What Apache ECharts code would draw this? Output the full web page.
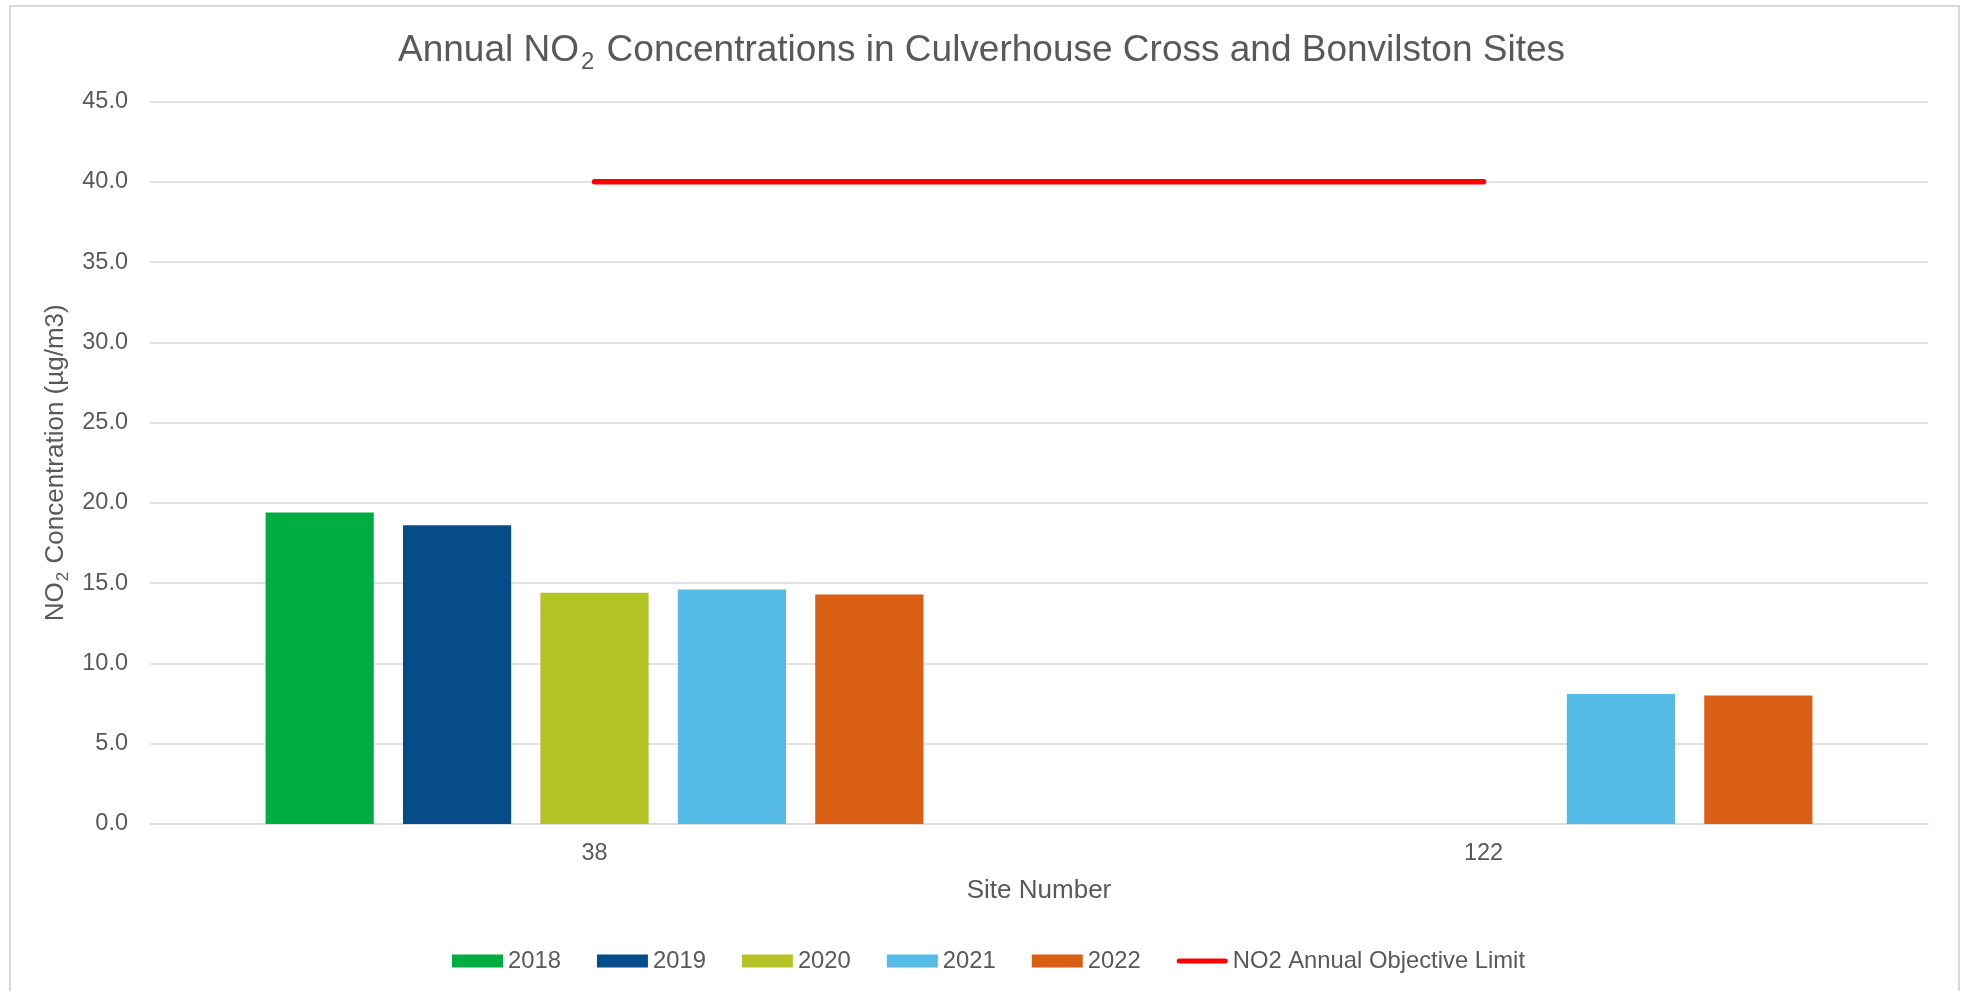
<!DOCTYPE html>
<html>
<head>
<meta charset="utf-8">
<script src="https://cdn.jsdelivr.net/npm/echarts@6/dist/echarts.min.js"></script>
<style>
html,body{margin:0;padding:0;background:#fff;}
#chart{width:1963px;height:991px;}
</style>
</head>
<body>
<div id="chart"></div>
<script>
const categories = ['38', '122'];
const years = ['2018', '2019', '2020', '2021', '2022'];
const values2018 = [19.4, null];
const values2019 = [18.6, null];
const values2020 = [14.4, null];
const values2021 = [14.6, 8.1];
const values2022 = [14.3, 8.0];
const objectiveLimit = [40, 40];
const objectiveName = 'NO2 Annual Objective Limit';
const yTicks = { min: 0, max: 45, interval: 5 };
const colors = ['#00AD43', '#064C89', '#B3C325', '#55BBE6', '#DA5F15'];

const seriesValues = [values2018, values2019, values2020, values2021, values2022];
const FONT = '"Liberation Sans", Arial, sans-serif';
const TXT = '#595959';
const LINE_ICON = 'path://M0,0 h0.001 v0.001 z M2.5,4 h46 a2.5,2.5 0 0 1 0,5 h-46 a2.5,2.5 0 0 1 0,-5 z M0,13 h0.001 v-0.001 z';

const chart = echarts.init(document.getElementById('chart'), null, { renderer: 'canvas' });

const barSeries = years.map((y, i) => ({
  name: y,
  type: 'bar',
  data: seriesValues[i],
  itemStyle: { color: colors[i] },
  barGap: '27%',
  barCategoryGap: '26%',
  emphasis: { disabled: true }
}));

const option = {
  backgroundColor: '#ffffff',
  animation: false,
  textStyle: { fontFamily: FONT },
  title: {
    text: '{a|Annual NO}{s|2}{a| Concentrations in Culverhouse Cross and Bonvilston Sites}',
    left: 'center',
    top: 24,
    textStyle: {
      fontWeight: 'normal',
      rich: {
        a: { fontSize: 37, color: TXT, fontFamily: FONT, fontWeight: 'normal', lineHeight: 44 },
        s: { fontSize: 24, color: TXT, fontFamily: FONT, fontWeight: 'normal', lineHeight: 24, padding: [23, 2, 0, 2] }
      }
    }
  },
  grid: { left: 150, right: 35, top: 101.5, bottom: 167, containLabel: false },
  legend: {
    bottom: 13,
    left: 447,
    itemWidth: 51,
    itemHeight: 13,
    itemGap: 36,
    textStyle: { fontSize: 23.8, color: TXT, fontFamily: FONT },
    data: [
      ...years.map(y => ({ name: y, icon: 'rect' })),
      { name: objectiveName, icon: LINE_ICON, itemStyle: { color: '#FF0000', borderWidth: 0 }, lineStyle: { width: 0 } }
    ]
  },
  xAxis: {
    type: 'category',
    data: categories,
    name: 'Site Number',
    nameLocation: 'middle',
    nameGap: 54,
    nameTextStyle: { fontSize: 26, color: TXT, fontFamily: FONT },
    axisLine: { show: true, lineStyle: { color: '#d9d9d9', width: 1.5 } },
    axisTick: { show: false },
    axisLabel: { fontSize: 23.5, color: TXT, margin: 18, fontFamily: FONT },
    splitLine: { show: false }
  },
  yAxis: {
    type: 'value',
    min: yTicks.min,
    max: yTicks.max,
    interval: yTicks.interval,
    name: '{a|NO}{s|2}{a| Concentration (µg/m3)}',
    nameLocation: 'middle',
    nameGap: 67,
    nameTextStyle: {
      rich: {
        a: { fontSize: 26, color: TXT, fontFamily: FONT, lineHeight: 32 },
        s: { fontSize: 17, color: TXT, fontFamily: FONT, lineHeight: 17, padding: [15, 1, 0, 1] }
      }
    },
    axisLine: { show: false },
    axisTick: { show: false },
    axisLabel: {
      fontSize: 23.5, color: TXT, margin: 22, fontFamily: FONT,
      formatter: v => v.toFixed(1)
    },
    splitLine: { show: true, lineStyle: { color: '#d9d9d9', width: 1.5 } }
  },
  series: [
    ...barSeries,
    {
      name: objectiveName,
      type: 'line',
      data: objectiveLimit,
      symbol: 'none',
      lineStyle: { color: '#FF0000', width: 5.5, cap: 'round' },
      itemStyle: { color: '#FF0000' },
      z: 5,
      emphasis: { disabled: true }
    }
  ],
  graphic: [
    {
      type: 'rect',
      shape: { x: 10, y: 6, width: 1949, height: 1000 },
      style: { fill: 'none', stroke: '#d9d9d9', lineWidth: 2 },
      silent: true,
      z: -1
    }
  ]
};

chart.setOption(option);
</script>
</body>
</html>
